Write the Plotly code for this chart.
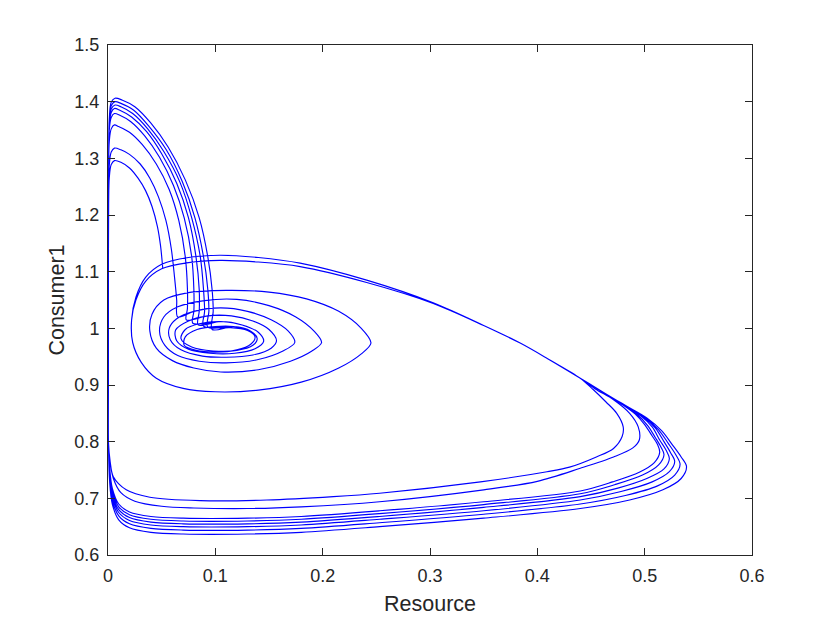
import plotly.graph_objects as go

# ---- data (Resource, Consumer1) ----
# arcs: from jump point up to the peak, then down along the Consumer axis
ARC1_X = [0.051, 0.049, 0.046, 0.041, 0.035, 0.028, 0.02, 0.012, 0.006, 0.003, 0.0012, 0.0006, 0.0004, 0.0004]
ARC1_Y = [1.106, 1.145, 1.18, 1.215, 1.243, 1.265, 1.283, 1.293, 1.296, 1.289, 1.266, 1.22, 1.1, 0.9]
ARC2_X = [0.065, 0.064, 0.062, 0.059, 0.054, 0.047, 0.039, 0.03, 0.02, 0.012, 0.006, 0.003, 0.0012, 0.0006, 0.0004, 0.0004]
ARC2_Y = [1.02, 1.05, 1.09, 1.14, 1.19, 1.232, 1.265, 1.29, 1.307, 1.315, 1.318, 1.311, 1.288, 1.24, 1.1, 0.9]
ARC3_X = [0.073, 0.074, 0.074, 0.072, 0.066, 0.057, 0.045, 0.032, 0.02, 0.01, 0.006, 0.003, 0.0012, 0.0006, 0.0004, 0.0004]
ARC3_Y = [1.015, 1.035, 1.07, 1.126, 1.19, 1.245, 1.29, 1.324, 1.346, 1.356, 1.359, 1.352, 1.33, 1.28, 1.1, 0.9]
ARC4_X = [0.079, 0.080, 0.080, 0.078, 0.071, 0.061, 0.048, 0.034, 0.021, 0.011, 0.006, 0.003, 0.0012, 0.0006, 0.0004, 0.0004]
ARC4_Y = [1.009, 1.03, 1.068, 1.126, 1.195, 1.252, 1.302, 1.34, 1.365, 1.376, 1.379, 1.372, 1.35, 1.30, 1.1, 0.9]
ARC5_X = [0.084, 0.085, 0.085, 0.082, 0.075, 0.064, 0.05, 0.036, 0.022, 0.011, 0.006, 0.003, 0.0012, 0.0006, 0.0004, 0.0004]
ARC5_Y = [1.006, 1.03, 1.068, 1.126, 1.195, 1.256, 1.308, 1.347, 1.373, 1.385, 1.388, 1.381, 1.355, 1.30, 1.1, 0.9]
ARC6_X = [0.089, 0.09, 0.089, 0.086, 0.078, 0.067, 0.052, 0.037, 0.023, 0.012, 0.0065, 0.003, 0.0012, 0.0006, 0.0004, 0.0004]
ARC6_Y = [1.004, 1.03, 1.068, 1.126, 1.195, 1.258, 1.312, 1.352, 1.379, 1.391, 1.394, 1.387, 1.36, 1.30, 1.1, 0.9]
ARC7_X = [0.093, 0.094, 0.093, 0.089, 0.081, 0.069, 0.054, 0.038, 0.024, 0.012, 0.0065, 0.003, 0.0012, 0.0006, 0.0004, 0.0004]
ARC7_Y = [1.002, 1.03, 1.068, 1.126, 1.195, 1.26, 1.316, 1.357, 1.385, 1.397, 1.400, 1.393, 1.365, 1.30, 1.1, 0.9]
ARC8_X = [0.097, 0.098, 0.097, 0.093, 0.085, 0.072, 0.056, 0.04, 0.025, 0.013, 0.0065, 0.003, 0.0012, 0.0006, 0.0004, 0.0004]
ARC8_Y = [0.998, 1.03, 1.068, 1.126, 1.195, 1.262, 1.32, 1.362, 1.391, 1.403, 1.406, 1.399, 1.37, 1.30, 1.1, 0.9]

# bottom runs: leaving the Consumer axis, along the bottom, round the right tip
BOT1_X = [0.0004, 0.002, 0.005, 0.017, 0.039, 0.086, 0.148, 0.21, 0.253, 0.347, 0.409, 0.43, 0.455, 0.471, 0.479, 0.480, 0.474, 0.464, 0.452]
BOT1_Y = [0.80, 0.765, 0.738, 0.715, 0.702, 0.696, 0.697, 0.703, 0.709, 0.729, 0.747, 0.755, 0.773, 0.788, 0.809, 0.826, 0.85, 0.87, 0.892]
BOT2_X = [0.0004, 0.0015, 0.005, 0.012, 0.025, 0.05, 0.08, 0.13, 0.18, 0.253, 0.35, 0.40, 0.44, 0.471, 0.489, 0.495, 0.494, 0.486, 0.471, 0.454]
BOT2_Y = [0.80, 0.77, 0.735, 0.71, 0.695, 0.686, 0.683, 0.682, 0.685, 0.694, 0.715, 0.73, 0.753, 0.773, 0.789, 0.803, 0.826, 0.850, 0.874, 0.893]
BOT3_X = [0.0004, 0.0015, 0.004, 0.01, 0.02, 0.04, 0.07, 0.13, 0.18, 0.253, 0.35, 0.44, 0.47, 0.495, 0.509, 0.514, 0.512, 0.507, 0.5, 0.491, 0.478, 0.463]
BOT3_Y = [0.80, 0.755, 0.718, 0.69, 0.676, 0.668, 0.665, 0.665, 0.668, 0.678, 0.694, 0.713, 0.729, 0.746, 0.763, 0.781, 0.795, 0.81, 0.83, 0.849, 0.867, 0.885]
BOT4_X = [0.0004, 0.0015, 0.004, 0.01, 0.02, 0.04, 0.07, 0.13, 0.18, 0.253, 0.35, 0.44, 0.472, 0.498, 0.513, 0.518, 0.515, 0.51, 0.503, 0.493, 0.479, 0.463]
BOT4_Y = [0.80, 0.75, 0.713, 0.685, 0.671, 0.663, 0.660, 0.660, 0.663, 0.673, 0.689, 0.708, 0.724, 0.741, 0.759, 0.777, 0.791, 0.807, 0.828, 0.848, 0.866, 0.885]
BOT5_X = [0.0004, 0.0015, 0.004, 0.01, 0.02, 0.04, 0.07, 0.13, 0.18, 0.253, 0.35, 0.44, 0.475, 0.502, 0.518, 0.523, 0.52, 0.514, 0.507, 0.496, 0.48, 0.464]
BOT5_Y = [0.80, 0.745, 0.708, 0.68, 0.666, 0.658, 0.655, 0.655, 0.658, 0.668, 0.684, 0.703, 0.718, 0.735, 0.752, 0.770, 0.785, 0.803, 0.826, 0.846, 0.865, 0.884]
BOT6_X = [0.0004, 0.0015, 0.004, 0.01, 0.02, 0.04, 0.07, 0.13, 0.18, 0.253, 0.35, 0.44, 0.478, 0.507, 0.523, 0.528, 0.524, 0.518, 0.51, 0.498, 0.481, 0.464]
BOT6_Y = [0.80, 0.74, 0.703, 0.675, 0.661, 0.653, 0.650, 0.650, 0.653, 0.663, 0.678, 0.697, 0.712, 0.729, 0.747, 0.765, 0.781, 0.80, 0.824, 0.845, 0.865, 0.884]
BOT7_X = [0.0004, 0.0015, 0.004, 0.01, 0.02, 0.04, 0.07, 0.13, 0.18, 0.253, 0.35, 0.44, 0.482, 0.512, 0.528, 0.533, 0.529, 0.522, 0.513, 0.50, 0.482, 0.465]
BOT7_Y = [0.80, 0.735, 0.697, 0.669, 0.655, 0.647, 0.644, 0.644, 0.647, 0.657, 0.672, 0.690, 0.705, 0.722, 0.741, 0.760, 0.777, 0.797, 0.821, 0.843, 0.864, 0.883]
BOT8_X = [0.0004, 0.0015, 0.004, 0.01, 0.02, 0.04, 0.07, 0.13, 0.18, 0.253, 0.35, 0.44, 0.486, 0.517, 0.534, 0.539, 0.534, 0.526, 0.516, 0.502, 0.483, 0.465]
BOT8_Y = [0.80, 0.73, 0.69, 0.662, 0.648, 0.640, 0.637, 0.637, 0.640, 0.650, 0.665, 0.682, 0.697, 0.715, 0.735, 0.756, 0.773, 0.794, 0.819, 0.842, 0.863, 0.883]

# shared return path from the right tip back to the upper left
RETURN_X = [0.44, 0.41, 0.384, 0.35, 0.303, 0.241, 0.179, 0.14, 0.104, 0.075, 0.05, 0.035, 0.026]
RETURN_Y_UPPER = [0.912, 0.946, 0.974, 1.005, 1.045, 1.085, 1.115, 1.125, 1.129, 1.125, 1.113, 1.09, 1.055]
RETURN_Y_LOWER = [0.912, 0.946, 0.974, 1.005, 1.044, 1.081, 1.109, 1.117, 1.12, 1.116, 1.105, 1.083, 1.05]

# shared spiral towards the equilibrium
SPIRAL_X = [0.022, 0.023, 0.031, 0.045, 0.07, 0.1, 0.14, 0.18, 0.215, 0.236, 0.245, 0.236, 0.215, 0.185, 0.15, 0.11, 0.075,
            0.052, 0.041, 0.039, 0.045, 0.06, 0.08, 0.105, 0.14, 0.17, 0.19, 0.199, 0.192, 0.175, 0.15, 0.12, 0.09, 0.065,
            0.052, 0.048, 0.053, 0.065, 0.085, 0.11, 0.14, 0.163, 0.174, 0.168, 0.152, 0.13, 0.105, 0.08, 0.064,
            0.057, 0.058, 0.068, 0.088, 0.11, 0.135, 0.152, 0.157, 0.15, 0.135, 0.115, 0.093, 0.075,
            0.063, 0.064, 0.075, 0.095, 0.118, 0.137, 0.145, 0.14, 0.125, 0.105, 0.085, 0.072,
            0.068, 0.078, 0.098, 0.12, 0.135, 0.139, 0.133, 0.117, 0.1,
            0.083, 0.072, 0.071, 0.082, 0.1, 0.12, 0.133, 0.137, 0.13, 0.114, 0.104]
SPIRAL_Y = [1.015, 0.975, 0.94, 0.912, 0.894, 0.888, 0.891, 0.905, 0.93, 0.955, 0.974, 1.0, 1.03, 1.052, 1.064, 1.067, 1.063,
            1.05, 1.025, 0.995, 0.965, 0.943, 0.93, 0.923, 0.927, 0.942, 0.96, 0.975, 0.995, 1.02, 1.04, 1.051, 1.049, 1.038,
            1.02, 0.995, 0.97, 0.952, 0.942, 0.939, 0.945, 0.96, 0.975, 0.995, 1.015, 1.03, 1.036, 1.03, 1.017,
            1.0, 0.98, 0.962, 0.951, 0.949, 0.953, 0.965, 0.978, 0.998, 1.013, 1.022, 1.022, 1.013,
            0.997, 0.978, 0.963, 0.956, 0.956, 0.964, 0.977, 0.993, 1.006, 1.012, 1.008, 0.998,
            0.982, 0.967, 0.96, 0.961, 0.97, 0.982, 0.995, 1.003, 1.003,
            0.998, 0.985, 0.97, 0.961, 0.958, 0.962, 0.972, 0.985, 0.996, 1.001, 1.0]

# index of the last spiral point reached before each following jump (None = whole spiral)
SPIRAL_STOP = [47, 60, 71, 71, 81, 81, 81, None]
USES_LOWER_RETURN = [True, True, False, False, False, False, False, False]

ARCS_X = [ARC1_X, ARC2_X, ARC3_X, ARC4_X, ARC5_X, ARC6_X, ARC7_X, ARC8_X]
ARCS_Y = [ARC1_Y, ARC2_Y, ARC3_Y, ARC4_Y, ARC5_Y, ARC6_Y, ARC7_Y, ARC8_Y]
BOTS_X = [BOT1_X, BOT2_X, BOT3_X, BOT4_X, BOT5_X, BOT6_X, BOT7_X, BOT8_X]
BOTS_Y = [BOT1_Y, BOT2_Y, BOT3_Y, BOT4_Y, BOT5_Y, BOT6_Y, BOT7_Y, BOT8_Y]

X_TICKS = [0, 0.1, 0.2, 0.3, 0.4, 0.5, 0.6]
X_TICK_TEXT = ["0", "0.1", "0.2", "0.3", "0.4", "0.5", "0.6"]
Y_TICKS = [0.6, 0.7, 0.8, 0.9, 1.0, 1.1, 1.2, 1.3, 1.4, 1.5]
Y_TICK_TEXT = ["0.6", "0.7", "0.8", "0.9", "1", "1.1", "1.2", "1.3", "1.4", "1.5"]

# ---- assemble the single trajectory ----
xs, ys = [], []
for k in range(8):
    xs += ARCS_X[k] + BOTS_X[k] + RETURN_X
    ys += ARCS_Y[k] + BOTS_Y[k] + (RETURN_Y_LOWER if USES_LOWER_RETURN[k] else RETURN_Y_UPPER)
    stop = SPIRAL_STOP[k]
    end = len(SPIRAL_X) if stop is None else stop + 1
    xs += SPIRAL_X[:end]
    ys += SPIRAL_Y[:end]

FONT = "Liberation Sans, Arial, Helvetica, sans-serif"
INK = "#262626"

fig = go.Figure()
fig.add_trace(go.Scatter(x=xs, y=ys, mode="lines",
                         line=dict(color="#0000ff", width=1.15, shape="spline", smoothing=0.9),
                         showlegend=False, hoverinfo="skip"))

axis_common = dict(showgrid=False, zeroline=False, showline=True, linecolor=INK, linewidth=1,
                   mirror="ticks", ticks="inside", ticklen=7, tickwidth=1, tickcolor=INK,
                   ticklabelstandoff=4,
                   tickfont=dict(family=FONT, size=18, color=INK))
fig.update_xaxes(range=[0, 0.6], tickvals=X_TICKS, ticktext=X_TICK_TEXT,
                 title=dict(text="Resource", standoff=11, font=dict(family=FONT, size=21.5, color=INK)),
                 **axis_common)
fig.update_yaxes(range=[0.6, 1.5], tickvals=Y_TICKS, ticktext=Y_TICK_TEXT,
                 title=dict(text="Consumer1", standoff=3, font=dict(family=FONT, size=21.5, color=INK)),
                 **axis_common)
fig.update_layout(width=822, height=615, margin=dict(l=100, r=78, t=37, b=68, pad=0),
                  plot_bgcolor="white", paper_bgcolor="white")
fig.write_html("out.html")
